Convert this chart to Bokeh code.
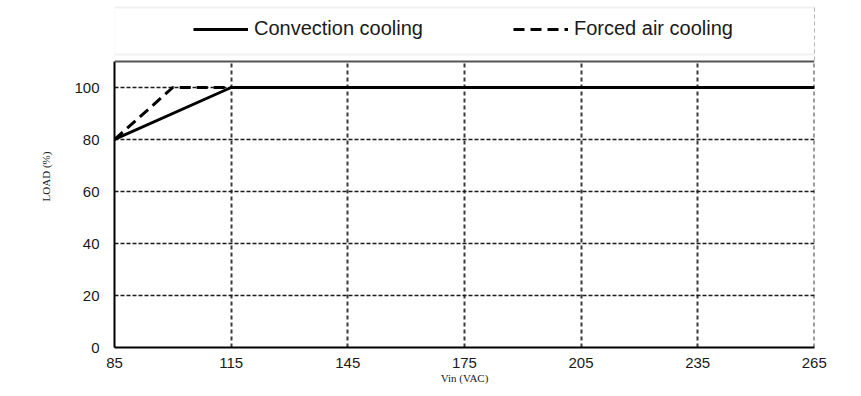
from bokeh.plotting import figure
from bokeh.models import Range1d, FixedTicker, Legend, LegendItem, BoxAnnotation, Span
from bokeh.embed import file_html
from bokeh.resources import INLINE

# ---- data ----
vin_convection = [85, 115, 265]
load_convection = [80, 100, 100]
vin_forced = [85, 100, 265]
load_forced = [80, 100, 100]
x_ticks = [85, 115, 145, 175, 205, 235, 265]
y_ticks = [0, 20, 40, 60, 80, 100]
y_top = 110
series_labels = ["Convection cooling", "Forced air cooling"]
x_title = "Vin (VAC)"
y_title = "LOAD (%)"

# ---- layout constants ----
W, H = 853, 388
LEFT = 114
TOP = 5
FRAME_W, FRAME_H = 700, 342
PX_PER_UNIT = 2.6
Y_END = FRAME_H / PX_PER_UNIT

p = figure(width=W, height=H, output_backend="svg", toolbar_location=None,
           x_range=Range1d(85, 265.05), y_range=Range1d(0, Y_END),
           min_border_left=LEFT, min_border_right=W - LEFT - FRAME_W,
           min_border_top=TOP, min_border_bottom=H - FRAME_H - TOP)
p.outline_line_color = None
p.background_fill_color = "white"
p.border_fill_color = "white"

# grids
p.xgrid.ticker = FixedTicker(ticks=x_ticks)
p.ygrid.ticker = FixedTicker(ticks=[t for t in y_ticks if t > 0])
p.xgrid.grid_line_color = "#3a3a3a"
p.xgrid.grid_line_width = 2
p.xgrid.grid_line_dash = "4 3"
p.ygrid.grid_line_color = "#1a1a1a"
p.ygrid.grid_line_width = 1.5
p.ygrid.grid_line_dash = "4 2"

# axes
for ax in (p.xaxis[0], p.yaxis[0]):
    ax.axis_line_color = "black"
    ax.axis_line_width = 2
    ax.major_tick_in = 0
    ax.major_tick_out = 0
    ax.minor_tick_line_color = None
    ax.major_label_text_font = "Liberation Sans"
    ax.major_label_text_font_size = "15px"
    ax.major_label_text_color = "#1a1a1a"
    ax.axis_label_text_font = "Liberation Serif"
    ax.axis_label_text_font_size = "11px"
    ax.axis_label_text_font_style = "normal"
    ax.axis_label_text_color = "#1a1a1a"

p.xaxis.ticker = FixedTicker(ticks=x_ticks)
p.yaxis.ticker = FixedTicker(ticks=y_ticks)
p.yaxis.bounds = (0, y_top)
p.xaxis.axis_label = x_title
p.yaxis.axis_label = y_title
p.xaxis.major_label_standoff = 10
p.yaxis.major_label_standoff = 15
p.xaxis.axis_label_standoff = 1
p.yaxis.axis_label_standoff = 19

# white cover above the chart area (legend zone)
cover = BoxAnnotation(bottom=y_top, top=FRAME_H + 30, top_units="screen",
                      fill_color="white", fill_alpha=1.0, line_color=None)
p.add_layout(cover)

# top border of chart area
top_border = Span(location=y_top, dimension="width", line_color="#555555", line_width=2)
p.add_layout(top_border)

# legend box
legend_box = BoxAnnotation(left=84.75, right=265.25, bottom=112.7, top=130.8,
                           fill_alpha=0, line_color="#cccccc", line_width=2)
p.add_layout(legend_box)

# data lines
r1 = p.line(vin_convection, load_convection, line_color="black", line_width=3)
r2 = p.line(vin_forced, load_forced, line_color="black", line_width=3, line_dash="11 6")

legend = Legend(items=[LegendItem(label=series_labels[0], renderers=[r1]),
                       LegendItem(label=series_labels[1], renderers=[r2])],
                orientation="horizontal", location=(79, 307),
                padding=0, margin=0, spacing=84,
                glyph_width=55, glyph_height=20, label_standoff=6,
                label_width=175, label_height=20,
                label_text_font="Liberation Sans", label_text_font_size="20px",
                label_text_color="#1a1a1a",
                border_line_color=None, background_fill_alpha=0)
p.add_layout(legend)

open("out.html", "w").write(file_html(p, INLINE))
